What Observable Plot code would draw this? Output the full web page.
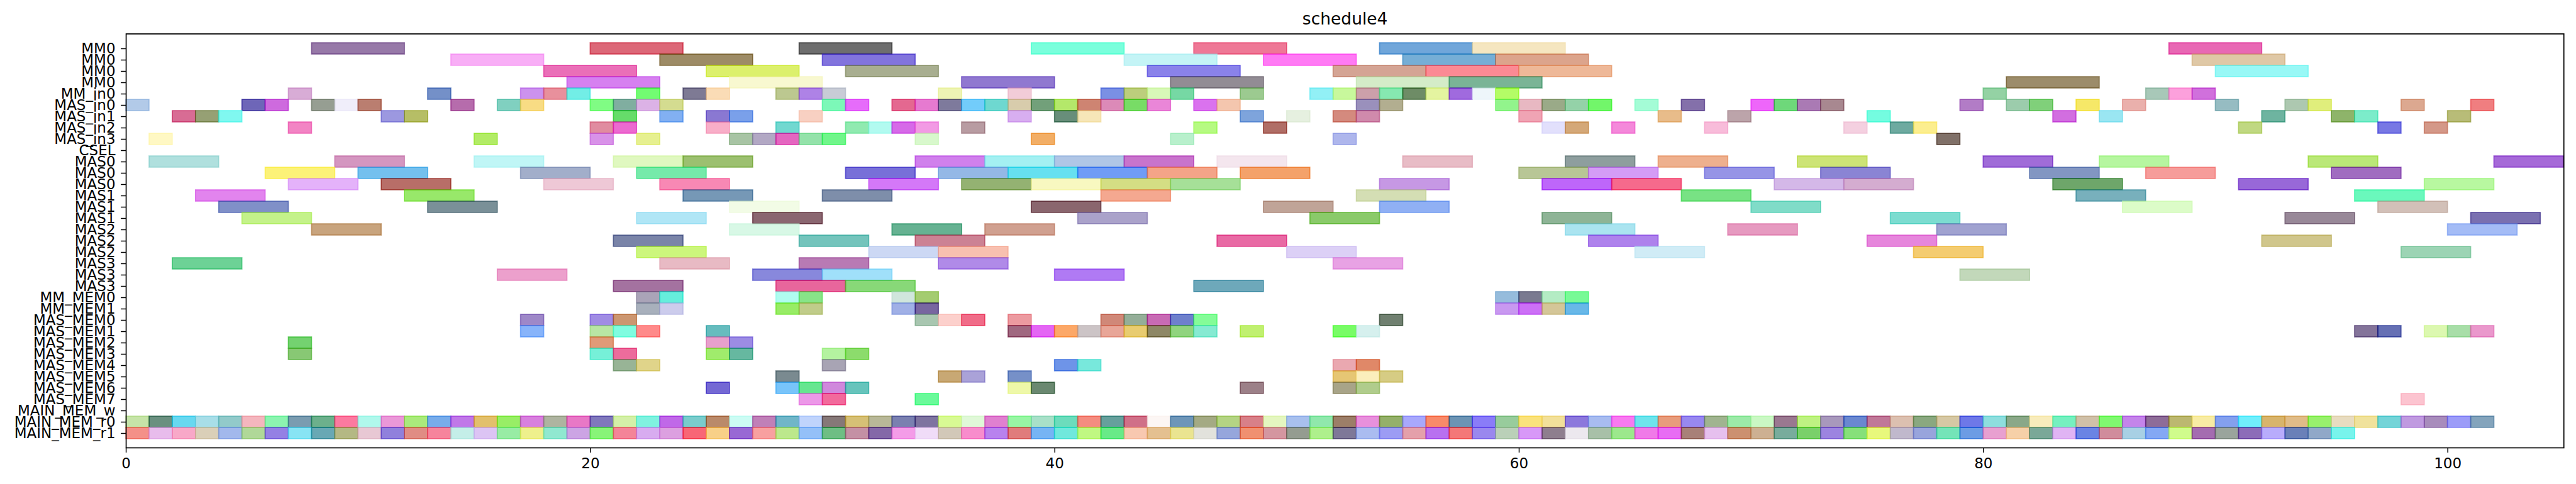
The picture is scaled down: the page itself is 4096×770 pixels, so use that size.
<!DOCTYPE html>
<html>
<head>
<meta charset="utf-8">
<script src="https://cdn.jsdelivr.net/npm/d3@7"></script>
<script src="https://cdn.jsdelivr.net/npm/@observablehq/plot@0.6"></script>
<style>
  html, body { margin: 0; padding: 0; background: white; }
  svg { display: block; }
</style>
</head>
<body>
<div id="chart"></div>
<script>
const chartTitle = "schedule4";
const xTicks = [0, 20, 40, 60, 80, 100];
const rowLabels = ["MM0","MM0","MM0","MM0","MM_in0","MAS_in0","MAS_in1","MAS_in2","MAS_in3","CSEL",
  "MAS0","MAS0","MAS0","MAS1","MAS1","MAS1","MAS2","MAS2","MAS2","MAS3","MAS3","MAS3",
  "MM_MEM0","MM_MEM1","MAS_MEM0","MAS_MEM1","MAS_MEM2","MAS_MEM3","MAS_MEM4","MAS_MEM5","MAS_MEM6","MAS_MEM7",
  "MAIN_MEM_w","MAIN_MEM_r0","MAIN_MEM_r1"];

// [row, start, end, color]
const mmBars = [
  [0,8,12,"#9779a8"],[0,20,24,"#dc6878"],[0,29,33,"#6e6e6e"],[0,39,43,"#7affdc"],[0,46,50,"#ee7896"],[0,54,58,"#70a6da"],[0,58,62,"#f5e6c0"],[0,88,92,"#e868b4"],
  [1,14,18,"#f8aef6"],[1,23,27,"#9d8b62"],[1,30,34,"#8274dd"],[1,43,47,"#c4f4f6"],[1,49,53,"#ff7af4"],[1,55,59,"#76aed6"],[1,59,63,"#dca48c"],[1,89,93,"#dfc8a6"],
  [2,18,22,"#ea6fb8"],[2,25,29,"#dcf06c"],[2,31,35,"#a8ae90"],[2,44,48,"#8a82ea"],[2,52,56,"#d4a494"],[2,56,60,"#fb8a94"],[2,60,64,"#eeb898"],[2,90,94,"#98f8f6"],
  [3,19,23,"#d680f0"],[3,26,30,"#f8f8d0"],[3,36,40,"#9078d0"],[3,45,49,"#928c94"],[3,53,57,"#d4ecc8"],[3,57,61,"#7ab496"],[3,81,85,"#9c8c6a"]
];
const inBars = [
  [4,7,8,"#d8acd6"],[4,13,14,"#7490c8"],[4,17,18,"#cc92ee"],[4,18,19,"#e8909c"],[4,19,20,"#72eee6"],[4,22,23,"#72fc72"],[4,24,25,"#7e7a94"],[4,25,26,"#fadcb6"],
  [4,28,29,"#bcc890"],[4,29,30,"#ae82e6"],[4,30,31,"#c8ccd6"],[4,35,36,"#eef4b4"],[4,38,39,"#f2ccd8"],[4,42,43,"#7a90e4"],[4,43,44,"#bcce7c"],[4,44,45,"#d8f8b8"],
  [4,45,46,"#76d8a4"],[4,48,49,"#9cca90"],[4,51,52,"#92f0f6"],[4,52,53,"#c8f89c"],[4,53,54,"#cca0aa"],[4,54,55,"#86e8b0"],[4,55,56,"#6e8c66"],[4,56,57,"#e4f4a0"],
  [4,57,58,"#a06ade"],[4,58,59,"#eef6fa"],[4,59,60,"#b4fc66"],[4,80,81,"#94d2a4"],[4,87,88,"#a8c8b8"],[4,88,89,"#fca0dc"],[4,89,90,"#d070dc"],
  [5,0,1,"#b2cae8"],[5,5,6,"#6e66b8"],[5,6,7,"#ce6ade"],[5,8,9,"#969e92"],[5,9,10,"#f0eefa"],[5,10,11,"#ba7e70"],[5,14,15,"#b66cac"],[5,16,17,"#80d0c0"],
  [5,17,18,"#f8dc84"],[5,20,21,"#80fc84"],[5,21,22,"#80aea0"],[5,22,23,"#dcb2e6"],[5,23,24,"#d4dc90"],[5,30,31,"#7cf8b8"],[5,31,32,"#e66cfa"],[5,33,34,"#e46890"],
  [5,34,35,"#e67ad0"],[5,35,36,"#7e7a9c"],[5,36,37,"#72ccfa"],[5,37,38,"#6ed8d0"],[5,38,39,"#d8ccac"],[5,39,40,"#72a07a"],[5,40,41,"#b4e86a"],[5,41,42,"#ce8472"],
  [5,42,43,"#dc8ab8"],[5,43,44,"#78dc62"],[5,44,45,"#ea86d8"],[5,46,47,"#da72ee"],[5,47,48,"#f4c6ae"],[5,53,54,"#9a90bc"],[5,54,55,"#b2ae90"],[5,59,60,"#92f48c"],
  [5,60,61,"#e8b8c2"],[5,61,62,"#9aaa88"],[5,62,63,"#94d2a8"],[5,63,64,"#72f66a"],[5,65,66,"#a4fcd6"],[5,67,68,"#8470aa"],[5,70,71,"#ee66fa"],[5,71,72,"#6ed87a"],
  [5,72,73,"#aa7ab4"],[5,73,74,"#a88890"],[5,79,80,"#b27cc6"],[5,81,82,"#9cccac"],[5,82,83,"#80d07a"],[5,84,85,"#f6e868"],[5,86,87,"#eab0ac"],[5,90,91,"#96bcc2"],
  [5,93,94,"#adc8b0"],[5,94,95,"#e0ee7c"],[5,98,99,"#dca890"],[5,101,102,"#f07e80"],
  [6,2,3,"#d86c94"],[6,3,4,"#96a074"],[6,4,5,"#80f8f0"],[6,11,12,"#9c98e0"],[6,12,13,"#b6be64"],[6,21,22,"#5edc6a"],[6,23,24,"#82b0f2"],[6,25,26,"#8a78d2"],
  [6,26,27,"#7aa0ea"],[6,29,30,"#f8d0c2"],[6,38,39,"#d8aef0"],[6,40,41,"#688e7a"],[6,41,42,"#f6e6b8"],[6,48,49,"#7ea4dc"],[6,50,51,"#e6f0e0"],[6,52,53,"#d48a7e"],
  [6,53,54,"#d08aac"],[6,60,61,"#f0a4b4"],[6,66,67,"#e8bc8a"],[6,69,70,"#bca4aa"],[6,75,76,"#74fce0"],[6,83,84,"#d26ee0"],[6,85,86,"#9ae6f2"],[6,92,93,"#6eb4a0"],
  [6,95,96,"#8eb46a"],[6,96,97,"#7cecca"],[6,100,101,"#b8bc78"],
  [7,7,8,"#f284c4"],[7,20,21,"#e08ca0"],[7,21,22,"#ec6ad0"],[7,25,26,"#f8aec8"],[7,28,29,"#72d8d0"],[7,31,32,"#90eab0"],[7,32,33,"#b2faf0"],[7,33,34,"#d66ae8"],
  [7,34,35,"#f29ae4"],[7,36,37,"#b89ca2"],[7,46,47,"#b6fa82"],[7,49,50,"#b06e66"],[7,61,62,"#e2e0fc"],[7,62,63,"#d4a878"],[7,64,65,"#f488da"],[7,68,69,"#f8bcda"],
  [7,74,75,"#f4d0e0"],[7,76,77,"#6eaaa0"],[7,77,78,"#fcee8e"],[7,91,92,"#c0d882"],[7,97,98,"#7878e4"],[7,99,100,"#d49888"],
  [8,1,2,"#fff8c4"],[8,15,16,"#b2ec62"],[8,20,21,"#d892e8"],[8,22,23,"#e6f090"],[8,26,27,"#a8c4a4"],[8,27,28,"#b2a8c4"],[8,28,29,"#e464c0"],[8,29,30,"#94e2aa"],
  [8,30,31,"#70f68a"],[8,34,35,"#d8f8cc"],[8,39,40,"#f2ae66"],[8,45,46,"#b8f0cc"],[8,52,53,"#aeb6ec"],[8,78,79,"#807068"]
];
const masBars = [
  [10,1,4,"#b0e0de"],[10,9,12,"#d496c0"],[10,15,18,"#c0f6f6"],[10,21,24,"#e0f8c0"],[10,24,27,"#9cc070"],[10,34,37,"#d080ec"],[10,37,40,"#a4f0f2"],[10,40,43,"#b0c6e6"],
  [10,43,46,"#c874cc"],[10,47,50,"#f4e6ee"],[10,55,58,"#e8bcc6"],[10,62,65,"#8e9e9e"],[10,66,69,"#eeb08e"],[10,72,75,"#cde476"],[10,80,83,"#a06cd8"],[10,85,88,"#b6f6a0"],
  [10,94,97,"#bae878"],[10,102,105,"#a66ad8"],
  [11,6,9,"#fcf278"],[11,10,13,"#74c0ee"],[11,17,20,"#a2aeca"],[11,22,25,"#76eaaa"],[11,31,34,"#7870d8"],[11,35,38,"#94b8e6"],[11,38,41,"#66e0f0"],[11,41,44,"#709cf6"],
  [11,44,47,"#f4a488"],[11,48,51,"#f4a26a"],[11,60,63,"#b8c696"],[11,63,66,"#d49cf6"],[11,68,71,"#9694e6"],[11,73,76,"#8a84d4"],[11,82,85,"#8296c2"],[11,87,90,"#f69c9a"],
  [11,95,98,"#a06cc0"],
  [12,7,10,"#e4b2fa"],[12,11,14,"#b86e68"],[12,18,21,"#eec8d6"],[12,23,26,"#f888b4"],[12,32,35,"#d478f8"],[12,36,39,"#94b272"],[12,39,42,"#f8f8c0"],[12,42,45,"#d4de84"],
  [12,45,48,"#a6e098"],[12,54,57,"#c698e4"],[12,61,64,"#be66fa"],[12,64,67,"#f66a8c"],[12,71,74,"#d4b8e8"],[12,74,77,"#d4acd0"],[12,83,86,"#6ea66a"],[12,91,94,"#9868d8"],
  [12,99,102,"#b8f8a0"],
  [13,3,6,"#e284ee"],[13,12,15,"#98e86a"],[13,24,27,"#7698b6"],[13,30,33,"#7e8eaa"],[13,42,45,"#f4a890"],[13,53,56,"#d4deb4"],[13,67,70,"#78e284"],[13,84,87,"#78b0bc"],
  [13,96,99,"#6af8bc"],
  [14,4,7,"#8090c8"],[14,13,16,"#7a9098"],[14,26,29,"#f2fce6"],[14,39,42,"#8a5e6e"],[14,49,52,"#c0a498"],[14,54,57,"#90b0f4"],[14,70,73,"#80dcc8"],[14,86,89,"#dcfcc8"],
  [14,97,100,"#d2c0b8"],
  [15,5,8,"#c4f28a"],[15,22,25,"#b0e6f6"],[15,27,30,"#8a6670"],[15,41,44,"#aaa2ca"],[15,51,54,"#8aca6a"],[15,61,64,"#8eb496"],[15,76,79,"#7cdcd0"],[15,93,96,"#988898"],
  [15,101,104,"#7a70b0"],
  [16,8,11,"#c8a47e"],[16,26,29,"#d8f8e6"],[16,33,36,"#66b292"],[16,37,40,"#d0a090"],[16,62,65,"#aae4f0"],[16,69,72,"#e69ac0"],[16,78,81,"#a0a2d0"],[16,100,103,"#a4bcf6"],
  [17,21,24,"#7a84a8"],[17,29,32,"#74c4bc"],[17,34,37,"#cc8294"],[17,47,50,"#e86aa4"],[17,63,66,"#ae82ec"],[17,75,78,"#e686dc"],[17,92,95,"#d0c68c"],
  [18,22,25,"#ccf67c"],[18,32,35,"#ccd8f4"],[18,35,38,"#f8c0b0"],[18,50,53,"#dcd0f6"],[18,65,68,"#d0ecf6"],[18,77,80,"#f4cc70"],[18,98,101,"#9cd4b4"],
  [19,2,5,"#6dd296"],[19,23,26,"#e8bac4"],[19,29,32,"#b87ab4"],[19,35,38,"#b08ae8"],[19,52,55,"#e8a2e4"],
  [20,16,19,"#eca0cc"],[20,27,30,"#8888dc"],[20,30,33,"#a0e0fa"],[20,40,43,"#b07af4"],[20,79,82,"#c2d8ba"],
  [21,21,24,"#a472a0"],[21,28,31,"#e8649c"],[21,31,34,"#88d878"],[21,46,49,"#6ea8ba"]
];
const memBars = [
  [22,22,23,"#aaa4b8"],[22,23,24,"#66eedc"],[22,28,29,"#b0fcf0"],[22,29,30,"#88e488"],[22,33,34,"#d0e6dc"],[22,34,35,"#a4cc70"],[22,59,60,"#96bcdc"],[22,60,61,"#7a7a90"],
  [22,61,62,"#b4ecc4"],[22,62,63,"#78fa96"],
  [23,22,23,"#a8b0bc"],[23,23,24,"#ccccec"],[23,28,29,"#98ec5c"],[23,29,30,"#c0cc8a"],[23,33,34,"#a0b0e6"],[23,34,35,"#7860a0"],[23,59,60,"#c898f0"],[23,60,61,"#cc70f6"],
  [23,61,62,"#d4c698"],[23,62,63,"#68b8e8"],
  [24,17,18,"#9e88c8"],[24,20,21,"#a08ce4"],[24,21,22,"#cc9670"],[24,34,35,"#a8c6b0"],[24,35,36,"#fcd0cc"],[24,36,37,"#f06c88"],[24,38,39,"#ec9aa0"],[24,42,43,"#d08878"],
  [24,43,44,"#94ae98"],[24,44,45,"#c86ab4"],[24,45,46,"#6e80cc"],[24,46,47,"#84fc98"],[24,54,55,"#708070"],
  [25,17,18,"#88b4fa"],[25,20,21,"#b8e6a4"],[25,21,22,"#80fce0"],[25,22,23,"#ff8a8a"],[25,25,26,"#66bcbe"],[25,38,39,"#a06880"],[25,39,40,"#e466f4"],[25,40,41,"#fca868"],
  [25,41,42,"#ccc4c6"],[25,42,43,"#e8a698"],[25,43,44,"#e8cc70"],[25,44,45,"#8e8866"],[25,45,46,"#90d47e"],[25,46,47,"#86ead2"],[25,48,49,"#c0f070"],[25,52,53,"#78fc5e"],
  [25,53,54,"#d6f0ee"],[25,96,97,"#84749a"],[25,97,98,"#6670b4"],[25,99,100,"#dcf8b0"],[25,100,101,"#a8dea8"],[25,101,102,"#ea98cc"],
  [26,7,8,"#74d270"],[26,20,21,"#e09a78"],[26,25,26,"#e8a0cc"],[26,26,27,"#9c8ce4"],
  [27,7,8,"#88c874"],[27,20,21,"#76f0d8"],[27,21,22,"#ec6c9c"],[27,25,26,"#a0ec6c"],[27,26,27,"#66b8a0"],[27,30,31,"#b4f2a0"],[27,31,32,"#8cdc6c"],
  [28,21,22,"#98b496"],[28,22,23,"#e0d48a"],[28,30,31,"#a8a4b4"],[28,40,41,"#6e94e8"],[28,41,42,"#78e8dc"],[28,52,53,"#eaa8b0"],[28,53,54,"#e08868"],
  [29,28,29,"#7a8a90"],[29,35,36,"#c8a874"],[29,36,37,"#aaa2d8"],[29,38,39,"#7690c8"],[29,52,53,"#e6c674"],[29,53,54,"#fbeebc"],[29,54,55,"#d6cc84"],
  [30,25,26,"#7468d4"],[30,28,29,"#78c4fa"],[30,29,30,"#66e690"],[30,30,31,"#d088dc"],[30,31,32,"#60c4bc"],[30,38,39,"#eef8a8"],[30,39,40,"#6a8870"],[30,48,49,"#9c8088"],
  [30,52,53,"#a8a488"],[30,53,54,"#b0cc8c"],
  [31,29,30,"#ec98e8"],[31,30,31,"#f26a9c"],[31,34,35,"#6afa9a"],[31,98,99,"#fcc4d0"]
];
// MAIN_MEM_r0 (row 33): [start, end, color]
const mainR0Bars = [
  [0,1,"#c6e4a8"],[1,2,"#6a9080"],[2,3,"#68d8f0"],[3,4,"#a8dee8"],[4,5,"#92caca"],[5,6,"#f4b6be"],[6,7,"#8cf4b0"],[7,8,"#7a9cb0"],[8,9,"#6cb08c"],[9,10,"#fc7aa0"],
  [10,11,"#b0f8ec"],[11,12,"#ea98d8"],[12,13,"#aaea7c"],[13,14,"#78acea"],[14,15,"#c078e8"],[15,16,"#e2c06c"],[16,17,"#98ee60"],[17,18,"#d880de"],[18,19,"#aeb4a0"],[19,20,"#e878c6"],
  [20,21,"#8078bc"],[21,22,"#d4f0a8"],[22,23,"#80f2e0"],[23,24,"#c068e8"],[24,25,"#7acccc"],[25,26,"#ba8a6a"],[26,27,"#ccfcf4"],[27,28,"#c080b8"],[28,29,"#70b6c8"],[29,30,"#c0d4fc"],
  [30,31,"#867878"],[31,32,"#d6c076"],[32,33,"#b8b898"],[33,34,"#7a80b0"],[34,35,"#7e74a0"],[35,36,"#d8fa94"],[36,37,"#e0f8d8"],[37,38,"#e080d0"],[38,39,"#98f6a4"],[39,40,"#a8e0c8"],
  [40,41,"#6cdcbc"],[41,42,"#f48c80"],[42,43,"#60a09c"],[43,44,"#d07088"],[44,45,"#fcf6f4"],[45,46,"#6e96b8"],[46,47,"#a4aa84"],[47,48,"#b4d484"],[48,49,"#d88088"],[49,50,"#e4f6c0"],
  [50,51,"#a8c0ee"],[51,52,"#90e8ac"],[52,53,"#9c7e68"],[53,54,"#e890dc"],[54,55,"#94b06a"],[55,56,"#a8a8fc"],[56,57,"#f88a6a"],[57,58,"#6c94b4"],[58,59,"#8a7cf8"],[59,60,"#98cc9c"],
  [60,61,"#fae27c"],[61,62,"#f2e09a"],[62,63,"#8c78dc"],[63,64,"#a8bcf0"],[64,65,"#f87af0"],[65,66,"#6ee4ec"],[66,67,"#e89c7c"],[67,68,"#9888f0"],[68,69,"#a0b490"],[69,70,"#9ceaa8"],
  [70,71,"#caf8c4"],[71,72,"#9a7890"],[72,73,"#bef282"],[73,74,"#a898bc"],[74,75,"#6a88d0"],[75,76,"#c07898"],[76,77,"#dcc0b0"],[77,78,"#8aa880"],[78,79,"#d6c8a4"],[79,80,"#6e78e8"],
  [80,81,"#8edede"],[81,82,"#8aa888"],[82,83,"#f8ecbc"],[83,84,"#76f0c0"],[84,85,"#d0c0a8"],[85,86,"#80f870"],[86,87,"#c484ea"],[87,88,"#8e6c98"],[88,89,"#bcb870"],[89,90,"#f8eca4"],
  [90,91,"#84a0ee"],[91,92,"#70eefc"],[92,93,"#d8b46c"],[93,94,"#e0bc88"],[94,95,"#98f06c"],[95,96,"#e8dcc0"],[96,97,"#f0e29c"],[97,98,"#74d4d8"],[98,99,"#c09ae0"],[99,100,"#a88cbc"],
  [100,101,"#9c9cf8"],[101,102,"#84a4bc"]
];
// MAIN_MEM_r1 (row 34): [start, end, color]
const mainR1Bars = [
  [0,1,"#f49088"],[1,2,"#e8bcec"],[2,3,"#f8a8c8"],[3,4,"#dacfb8"],[4,5,"#a2b8ec"],[5,6,"#b0d898"],[6,7,"#9480e4"],[7,8,"#88e4f4"],[8,9,"#68a8b4"],[9,10,"#b4b884"],
  [10,11,"#e8c8d4"],[11,12,"#9080dc"],[12,13,"#e08c84"],[13,14,"#f6849c"],[14,15,"#c4eee8"],[15,16,"#dcc4f4"],[16,17,"#98eca4"],[17,18,"#eef08c"],[18,19,"#90e8d0"],[19,20,"#cca4e4"],
  [20,21,"#88f478"],[21,22,"#f48498"],[22,23,"#d8acf0"],[23,24,"#dca0e0"],[24,25,"#f86676"],[25,26,"#f8d088"],[26,27,"#9868d4"],[27,28,"#f8a0a0"],[28,29,"#bce88c"],[29,30,"#94c0f8"],
  [30,31,"#6ebe84"],[31,32,"#c490a4"],[32,33,"#8468a8"],[33,34,"#f49ce8"],[34,35,"#f0dcf8"],[35,36,"#d2c8b8"],[36,37,"#f88ccc"],[37,38,"#b882ee"],[38,39,"#e07c7c"],[39,40,"#76b4f4"],
  [40,41,"#70e8dc"],[41,42,"#c0f882"],[42,43,"#68ea88"],[43,44,"#f8c8b0"],[44,45,"#e4c090"],[45,46,"#eae490"],[46,47,"#e2e2dc"],[47,48,"#96a6dc"],[48,49,"#f09070"],[49,50,"#d496a0"],
  [50,51,"#949c90"],[51,52,"#aef08c"],[52,53,"#7e7898"],[53,54,"#aabcf0"],[54,55,"#9c9cf4"],[55,56,"#e4a0aa"],[56,57,"#b870f0"],[57,58,"#f47878"],[58,59,"#9a88ee"],[59,60,"#bad0b8"],
  [60,61,"#d898f8"],[61,62,"#8e7e8e"],[62,63,"#ece8ee"],[63,64,"#a8c0a8"],[64,65,"#9ce88c"],[65,66,"#f07ae8"],[66,67,"#e86cf4"],[67,68,"#a88078"],[68,69,"#e6c0ee"],[69,70,"#cc9070"],
  [70,71,"#cdb092"],[71,72,"#78ac9c"],[72,73,"#7ad06a"],[73,74,"#9c84e0"],[74,75,"#86e07a"],[75,76,"#e8f87c"],[76,77,"#c0b8cc"],[77,78,"#98a4dc"],[78,79,"#74e4b8"],[79,80,"#6c9ce4"],
  [80,81,"#e8a0d0"],[81,82,"#f6d0a8"],[82,83,"#7aa898"],[83,84,"#e0b4f4"],[84,85,"#6a84e4"],[85,86,"#d08c9c"],[86,87,"#a8d0e4"],[87,88,"#84a8f4"],[88,89,"#d0fc8c"],[89,90,"#a46cb0"],
  [90,91,"#9aa49c"],[91,92,"#8c6cb8"],[92,93,"#b8acfc"],[93,94,"#6a80b8"],[94,95,"#90a8c8"],[95,96,"#78f4ec"]
];

const ALPHA = 0.6;
// colours above are read as seen on white; recover the underlying colour drawn at ALPHA
function baseColor(hex) {
  const c = d3.rgb(hex);
  const f = v => Math.max(0, Math.min(255, (v - 255 * (1 - ALPHA)) / ALPHA));
  return d3.rgb(f(c.r), f(c.g), f(c.b)).formatHex();
}

const tasks = [
  ...[...mmBars, ...inBars, ...masBars, ...memBars].map(([row, start, end, color]) => ({row, start, end, color})),
  ...mainR0Bars.map(([start, end, color]) => ({row: 33, start, end, color})),
  ...mainR1Bars.map(([start, end, color]) => ({row: 34, start, end, color}))
].map(d => ({...d, base: baseColor(d.color)}));

const S = 0.855;
const chart = Plot.plot({
  width: 4096,
  height: 770,
  marginLeft: 234 * S,
  marginRight: 4096 - 4767.5 * S,
  marginTop: 62.5 * S,
  marginBottom: 770 - 832.7 * S,
  style: {fontFamily: "'DejaVu Sans', sans-serif", fontSize: "23px", color: "black", background: "white"},
  x: {domain: [0, 105]},
  y: {type: "band", domain: d3.range(rowLabels.length), padding: 0},
  marks: [
    Plot.barX(tasks, {
      x1: "start", x2: "end", y: "row",
      fill: "base", fillOpacity: ALPHA,
      stroke: "base", strokeOpacity: ALPHA, strokeWidth: 1.7
    }),
    Plot.frame({stroke: "black", strokeWidth: 1.7}),
    Plot.axisX({ticks: xTicks, tickSize: 8, tickPadding: 8, fontSize: 23, strokeWidth: 1.5, label: null}),
    Plot.axisY({tickSize: 8, tickPadding: 9, fontSize: 23, strokeWidth: 1.5, label: null,
      tickFormat: i => rowLabels[i]}),
    Plot.text([chartTitle], {frameAnchor: "top", dy: -15, lineAnchor: "bottom", fontSize: 26.5, fill: "black"})
  ]
});
document.getElementById("chart").appendChild(chart);
</script>
</body>
</html>
